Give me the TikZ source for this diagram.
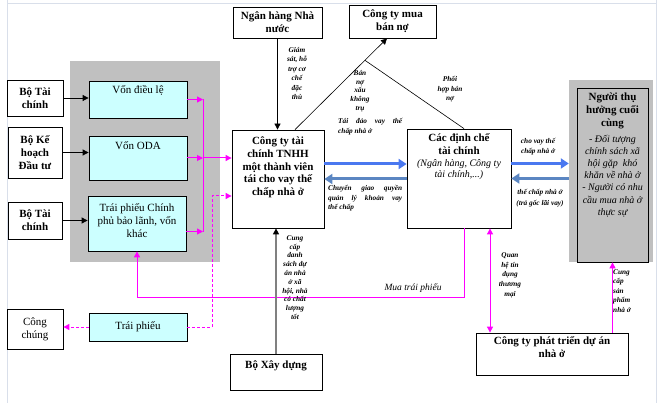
\documentclass[tikz,border=0pt]{standalone}
\usepackage{fontspec}
\setmainfont{Liberation Serif}
\usetikzlibrary{arrows.meta,calc,positioning}
\definecolor{cyanbox}{HTML}{CCFFFF}
\definecolor{graybg}{HTML}{C0C0C0}
\definecolor{pink}{HTML}{FF00FF}
\definecolor{bluefwd}{HTML}{4A78F0}
\definecolor{blueback}{HTML}{5B86C2}
\definecolor{pageline}{HTML}{D9DFEA}

\begin{document}
\begin{tikzpicture}[x=1pt,y=-1pt,
  box/.style={draw,line width=0.8pt,fill=white,inner sep=0pt},
  cbox/.style={box,fill=cyanbox},
  boldtxt/.style={font=\fontsize{11}{12.8}\selectfont\bfseries,align=center,inner sep=0pt},
  plaintxt/.style={font=\fontsize{11}{12.8}\selectfont,align=center,inner sep=0pt},
  itxt/.style={font=\fontsize{10}{#1}\selectfont\itshape,align=center,inner sep=0pt},
  itxt/.default=12.2,
  lbl/.style={font=\fontsize{7.3}{#1}\selectfont\bfseries\itshape,align=center,inner sep=0pt},
  lbl/.default=9,
  arr/.style={-{Triangle[length=6pt,width=6pt]}},
  mag/.style={pink,line width=1pt},
  magd/.style={mag,dash pattern=on 3pt off 2pt},
  thickarr/.style={line width=3pt,-{Triangle[length=8pt,width=10pt]}}]
\useasboundingbox (0,0) rectangle (660,403);
\draw[pageline] (7,0) -- (7,403);
\draw[pageline] (656,0) -- (656,403);
\draw[pageline] (7,3) -- (656,3);

% nguon von
\node[fill=graybg,minimum width=150pt,minimum height=201pt] (nguon) at (145,161.5) {};
\node[box,boldtxt,minimum width=56pt,minimum height=36pt] (btc1) at (35,98) {Bộ Tài\\chính};
\node[box,boldtxt,minimum width=54pt,minimum height=51pt] (bkh) at (35,152.5) {Bộ Kế\\hoạch\\Đầu tư};
\node[box,boldtxt,minimum width=54pt,minimum height=37pt] (btc2) at (35,220.5) {Bộ Tài\\chính};
\node[cbox,minimum width=98pt,minimum height=37pt] (von) at (138,99.5) {};
\node[plaintxt,anchor=north] (von-t) at ([yshift=-5pt]von.north) {Vốn điều lệ};
\node[cbox,minimum width=98pt,minimum height=44pt] (oda) at (138,158) {};
\node[plaintxt,anchor=north] (oda-t) at ([yshift=-6pt]oda.north) {Vốn ODA};
\node[cbox,minimum width=98pt,minimum height=55pt] (tpcp) at (137,223.5) {};
\node[plaintxt,anchor=north] (tpcp-t) at ([yshift=-8pt]tpcp.north) {Trái phiếu Chính\\phủ bảo lãnh, vốn\\khác};
\node[box,plaintxt,minimum width=56pt,minimum height=40pt] (congchung) at (35,329) {Công\\chúng};
\node[cbox,plaintxt,minimum width=98pt,minimum height=28pt] (traiphieu) at (138,327) {Trái phiếu};

% cac to chuc
\node[box,boldtxt,minimum width=89pt,minimum height=31pt] (nhnn) at (277.5,22.5) {Ngân hàng Nhà\\nước};
\node[box,boldtxt,minimum width=87pt,minimum height=33pt] (muaban) at (392.5,21.5) {Công ty mua\\bán nợ};
\node[box,minimum width=92pt,minimum height=98pt] (ctytc) at (278,179) {};
\node[boldtxt,anchor=north] (ctytc-t) at ([yshift=-7pt]ctytc.north) {Công ty tài\\chính TNHH\\một thành viên\\tái cho vay thế\\chấp nhà ở};
\node[box,minimum width=104pt,minimum height=99pt] (dinhche) at (459,178.5) {};
\node[boldtxt,anchor=north] (dinhche-t) at ([yshift=-5pt]dinhche.north) {Các định chế\\tài chính};
\node[itxt=11,anchor=north] (dinhche-s) at ([yshift=-31pt]dinhche.north) {(Ngân hàng, Công ty\\tài chính,...)};
\node[fill=graybg,minimum width=84pt,minimum height=182pt] (nguoibg) at (611,171) {};
\node[box,fill=graybg,minimum width=71pt,minimum height=174pt] (nguoi) at (612.5,175) {};
\node[boldtxt,anchor=north] (nguoi-t) at ([yshift=-5pt]nguoi.north) {Người thụ\\hưởng cuối\\cùng};
\node[itxt,anchor=north] (nguoi-s) at ([yshift=-47pt]nguoi.north) {- Đối tượng\\chính sách xã\\hội gặp\ \ khó\\khăn về nhà ở\\- Người có nhu\\cầu mua nhà ở\\thực sự};
\node[box,minimum width=152pt,minimum height=42pt] (ptda) at (552,354) {};
\node[boldtxt,anchor=north] (ptda-t) at ([yshift=-4pt]ptda.north) {Công ty phát triển dự án\\nhà ở};
\node[box,minimum width=92pt,minimum height=36pt] (bxd) at (276,372) {};
\node[boldtxt,anchor=north] (bxd-t) at ([yshift=-6.5pt]bxd.north) {Bộ Xây dựng};

% mui ten
\foreach \a/\b in {btc1/von,bkh/oda,btc2/tpcp}
  \draw[arr,line width=0.8pt] (\a.east) -- (\a.east -| \b.west);
\coordinate (bus) at (203,159);
\foreach \n/\s in {von/0,oda/0,tpcp/-8}
  \draw[mag,arr] ([yshift=\s pt]\n.east) -- ([yshift=\s pt]\n.east -| bus);
\draw[mag] (von.east -| bus) -- ([yshift=-8pt]tpcp.east -| bus);
\draw[mag,arr] (oda.east -| bus) -- (oda.east -| ctytc.west);
\coordinate (dn) at (212,196);
\draw[magd,arr] (traiphieu.east) -| (dn) -- (dn -| ctytc.west);
\draw[magd,arr] (traiphieu.west) -- (traiphieu.west -| congchung.east);

\draw[arr,line width=0.8pt] (nhnn.south) -- (nhnn.south |- ctytc.north);
\coordinate (banA) at ([xshift=17pt]ctytc.north);
\coordinate (banB) at ([xshift=-5.5pt]muaban.south);
\draw[arr,line width=0.6pt] (banA) -- (banB);
\draw[line width=0.6pt] ([xshift=5pt]dinhche.north) -- ($(banA)!0.76!(banB)$);

\draw[thickarr,bluefwd] ([yshift=15pt]ctytc.east) -- ([yshift=15pt]ctytc.east -| dinhche.west);
\draw[thickarr,blueback] (dinhche.west |- ctytc.east) -- (ctytc.east);
\draw[thickarr,bluefwd] ([yshift=15pt]dinhche.east) -- ([yshift=15pt]dinhche.east -| nguoibg.west);
\draw[thickarr,blueback] (dinhche.east -| nguoibg.west) -- (dinhche.east);

\draw[mag,arr] ([xshift=5pt]dinhche.south) -- ++(0,69) -| (tpcp.south);
\draw[mag,{Triangle[length=6pt,width=6pt]}-{Triangle[length=6pt,width=6pt]}] ([xshift=31pt]dinhche.south) -- ([xshift=31pt]dinhche.south |- ptda.north);
\draw[mag,arr] (nguoi.south |- ptda.north) -- (nguoi.south);
\draw[gray,line width=1.5pt,-{Triangle[length=6pt,width=6pt,color=black]}] (bxd.north) -- (bxd.north |- ctytc.south);

% nhan
\node[lbl=9.4] (giam) at (297,73.5) {Giám\\sát, hỗ\\trợ cơ\\chế\\đặc\\thù};
\node[lbl=8.6] (banno) at (360,91) {Bán\\nợ\\xấu\\không\\trụ};
\node[lbl=10,align=left,anchor=north west] (taidao) at (338,118) {\makebox[64pt][s]{Tái đảo vay thế}\\chấp nhà ở};
\node[lbl=9.5] (phoi) at (450,89.5) {Phối\\hợp bán\\nợ};
\node[lbl=9.6,align=left,anchor=north west] (chuyen) at (328,185) {\makebox[74pt][s]{Chuyển giao quyền}\\\makebox[74pt][s]{quản lý khoản vay}\\thế chấp};
\node[lbl=10.5] (chovay) at (538,146.5) {cho vay thế\\chấp nhà ở};
\node[lbl=11] (thechap) at (540,198.5) {thế chấp nhà ở\\(trả gốc lãi vay)};
\node[font=\fontsize{9.5}{10}\selectfont\itshape,inner sep=0pt] (muatp) at (413,288) {Mua trái phiếu};
\node[lbl=9.7] (quanhe) at (510,275) {Quan\\hệ tín\\dụng\\thương\\mại};
\node[lbl=9.5,align=left,anchor=north west] (cungsp) at (613,269) {Cung\\cấp\\sản\\phẩm\\nhà ở};
\node[lbl=8.8] (cungds) at (295,277.5) {Cung\\cấp\\danh\\sách dự\\án nhà\\ở xã\\hội, nhà\\có chất\\lượng\\tốt};
\end{tikzpicture}
\end{document}
